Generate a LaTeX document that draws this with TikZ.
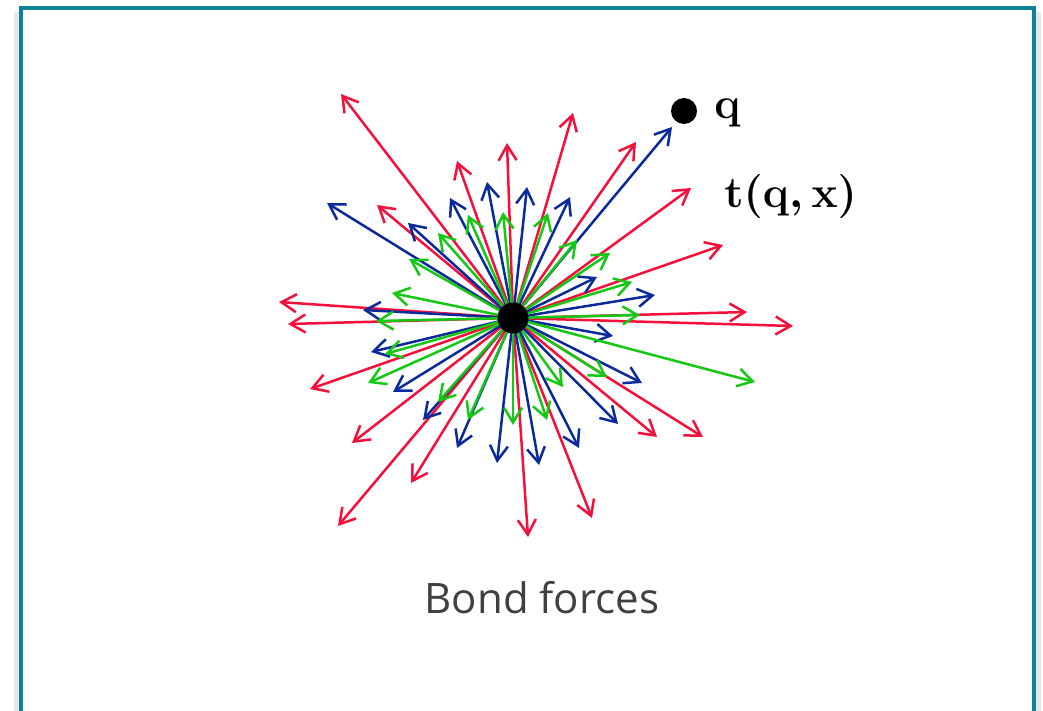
\documentclass[tikz,border=0pt]{standalone}
\usepackage{fix-cm}
\usepackage{fontspec}
\newfontfamily\captionfont{Open Sans}
\usetikzlibrary{arrows.meta}
\definecolor{bondred}{HTML}{F5103C}
\definecolor{bondblue}{HTML}{0A2A9C}
\definecolor{bondgreen}{HTML}{14C814}
\definecolor{frameteal}{HTML}{0E8299}
\definecolor{captiongray}{HTML}{404040}

\begin{document}
\begin{tikzpicture}[
    x=0.5pt,y=-0.5pt,
    bond/.style={-{Straight Barb[length=7.5pt,width=9pt]},line width=1.25pt},
    atom/.style={circle,fill=black,inner sep=0pt,minimum size=#1},
    atom/.default=15.5pt,
    boldlabel/.style={font=\fontsize{22pt}{26pt}\selectfont\boldmath,
      inner sep=0pt,anchor=base west}
  ]
    \useasboundingbox (0,0) rectangle (1043,711);
    \clip (0,0) rectangle (1043,711);
    % panel frame with a faint shadow
    \draw[gray!18,line width=3pt] (17,12) -- (17,760) (1038,12) -- (1038,760);
    \draw[frameteal,line width=2pt] (21,8) rectangle (1034,760);
    \coordinate (centre) at (513,318);
    % bond force vectors
    \foreach \tx/\ty [count=\i] in {341/94,457/161,507/143,573/113,636/142,
        691/188,723/245,747/312,793/326,703/437,657/437,592/518,528/537,
        338/526,411/483,352/443,310/389,288/324,279/302,377/205} {
      \coordinate (red\i) at (\tx,\ty);
      \draw[bond,bondred] (centre) -- (red\i);
    }
    \foreach \tx/\ty [count=\i] in {672/127,327/203,450/198,487/182,408/223,
        527/187,570/197,655/295,597/277,613/336,642/383,618/424,579/448,
        539/465,497/463,457/448,423/420,393/392,371/352,363/310} {
      \coordinate (blue\i) at (\tx,\ty);
      \draw[bond,bondblue] (centre) -- (blue\i);
    }
    \foreach \tx/\ty [count=\i] in {392/293,409/259,438/233,468/215,503/212,
        548/213,577/240,610/253,632/282,640/315,755/382,607/377,563/387,
        547/420,513/425,468/420,438/402,368/383,385/354,376/321} {
      \coordinate (green\i) at (\tx,\ty);
      \draw[bond,bondgreen] (centre) -- (green\i);
    }
    \node[atom] (x) at (centre) {};
    \node[atom=13pt] (qpoint) at (684,111) {};
    \node[boldlabel] (qlabel) at (714,119) {$\mathbf{q}$};
    \node[boldlabel] (tlabel) at (724,207)
      {$\mathbf{t}(\mathbf{q},\mathbf{x})$};
    \node[font=\captionfont\fontsize{21pt}{25pt}\selectfont,
      text=captiongray,inner sep=0pt,anchor=base] (caption) at (542,613)
      {Bond forces};
  \end{tikzpicture}
\end{document}
